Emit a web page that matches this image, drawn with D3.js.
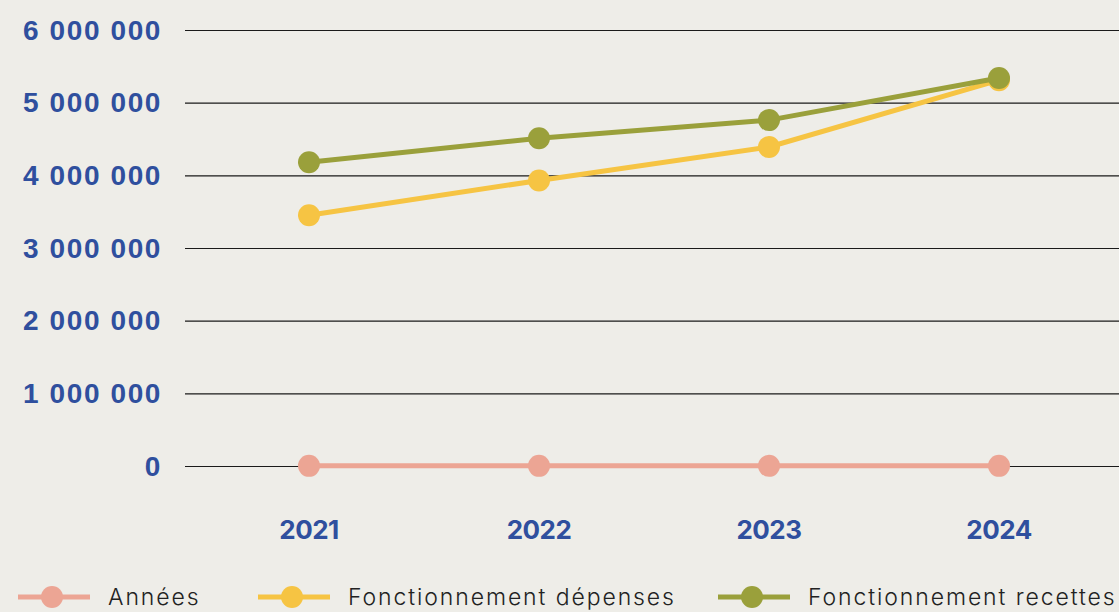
<!DOCTYPE html>
<html>
<head>
<meta charset="utf-8">
<script src="https://cdn.jsdelivr.net/npm/d3@7"></script>
<style>
  body { margin: 0; background: #eeede8; }
  #chart { width: 1119px; height: 612px; }
</style>
</head>
<body>
<div id="chart"></div>
<script>
var years = ['2021', '2022', '2023', '2024'];
var annees = [2021, 2022, 2023, 2024];
var depenses = [3450000, 3930000, 4390000, 5310000];
var recettes = [4180000, 4510000, 4760000, 5340000];
var yTicks = [0, 1000000, 2000000, 3000000, 4000000, 5000000, 6000000];

var series = [
  { name: 'Années', values: annees, color: '#eca594' },
  { name: 'Fonctionnement dépenses', values: depenses, color: '#f6c443' },
  { name: 'Fonctionnement recettes', values: recettes, color: '#9aa03b' }
];

var width = 1119, height = 612;
var plotLeft = 185, plotTop = 30, plotBottom = 466;

var svg = d3.select('#chart')
  .append('svg')
    .attr('width', width)
    .attr('height', height);

svg.append('rect')
    .attr('width', width)
    .attr('height', height)
    .attr('fill', '#eeede8');

var x = d3.scalePoint()
  .domain(years)
  .range([194, 1114])
  .padding(0.5);

var y = d3.scaleLinear()
  .domain([0, 6000000])
  .range([plotBottom, plotTop]);

var fmt = function (d) {
  return d3.format(',')(d).replace(/,/g, ' ');
};

// grid lines
svg.selectAll('.grid')
    .data(yTicks)
    .enter()
  .append('line')
    .attr('x1', plotLeft)
    .attr('x2', width)
    .attr('y1', function (d) { return y(d) + 0.5; })
    .attr('y2', function (d) { return y(d) + 0.5; })
    .attr('stroke', '#1a1a1a')
    .attr('stroke-width', 1.2);

svg.selectAll('.ylab')
    .data(yTicks)
    .enter()
  .append('text')
    .attr('x', 162)
    .attr('y', function (d) { return y(d); })
    .attr('dy', '0.35em')
    .attr('text-anchor', 'end')
    .attr('font-family', 'Liberation Sans, Arial, sans-serif')
    .attr('font-weight', 'bold')
    .attr('font-size', 28)
    .attr('letter-spacing', 1.6)
    .attr('fill', '#2f4f9e')
    .text(fmt);

svg.selectAll('.xlab')
    .data(years)
    .enter()
  .append('text')
    .attr('x', function (d) { return x(d); })
    .attr('y', 530)
    .attr('dy', '0.35em')
    .attr('text-anchor', 'middle')
    .attr('font-family', 'Inter, sans-serif')
    .attr('font-weight', 'bold')
    .attr('font-size', 26)
    .attr('letter-spacing', -0.5)
    .attr('fill', '#2f4f9e')
    .text(function (d) { return d; });

var line = d3.line()
    .x(function (d, i) { return x(years[i]); })
    .y(function (d) { return y(d); });

var group = svg.selectAll('.series')
    .data(series)
    .enter()
  .append('g');

group.append('path')
    .attr('d', function (d) { return line(d.values); })
    .attr('fill', 'none')
    .attr('stroke', function (d) { return d.color; })
    .attr('stroke-width', 5);

group.selectAll('circle')
    .data(function (d) {
      return d.values.map(function (v, i) { return { v: v, i: i, color: d.color }; });
    })
    .enter()
  .append('circle')
    .attr('cx', function (d) { return x(years[d.i]); })
    .attr('cy', function (d) { return y(d.v); })
    .attr('r', 11)
    .attr('fill', function (d) { return d.color; });

// legend
var legendX = [18, 258, 718];
var legend = svg.selectAll('.legend')
    .data(series)
    .enter()
  .append('g')
    .attr('transform', function (d, i) { return 'translate(' + legendX[i] + ',597)'; });

legend.append('line')
    .attr('x1', 0)
    .attr('x2', 72)
    .attr('stroke', function (d) { return d.color; })
    .attr('stroke-width', 5);

legend.append('circle')
    .attr('cx', 34)
    .attr('r', 11)
    .attr('fill', function (d) { return d.color; });

legend.append('text')
    .attr('x', 90)
    .attr('dy', '0.35em')
    .attr('font-family', 'Inter, sans-serif')
    .attr('font-weight', 300)
    .attr('font-size', 23)
    .attr('letter-spacing', 1.9)
    .attr('fill', '#222')
    .text(function (d) { return d.name; });
</script>
</body>
</html>
